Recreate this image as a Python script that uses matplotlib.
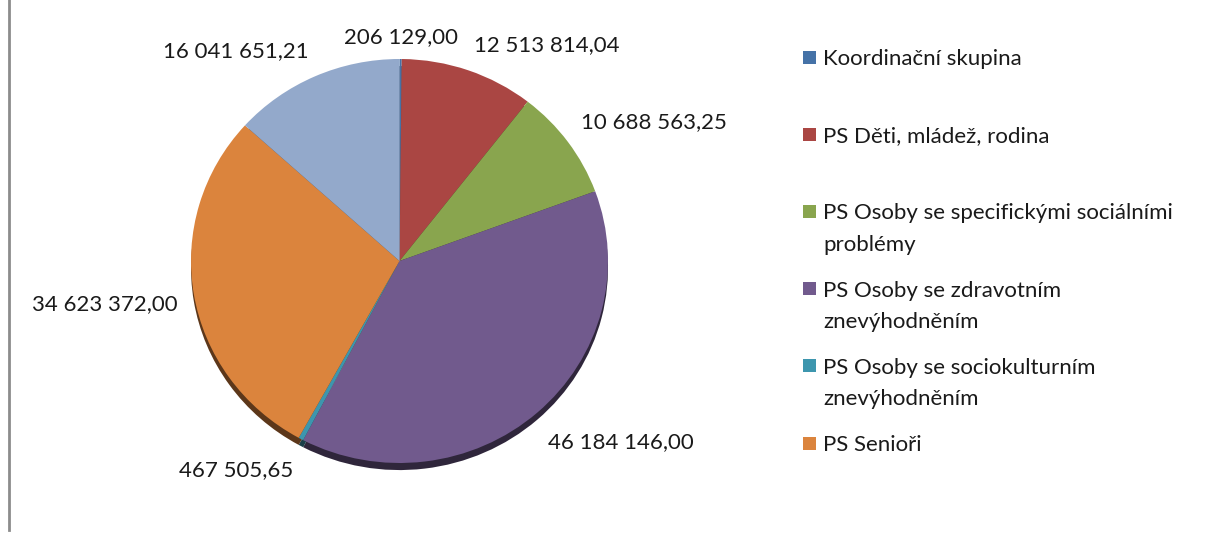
import numpy as np
import matplotlib
matplotlib.use('Agg')
import matplotlib.pyplot as plt
from matplotlib.colors import to_rgb
from matplotlib.lines import Line2D
from matplotlib.patches import Rectangle

# Slice data (clockwise from 12 o'clock)
categories = [
    'Koordinační skupina',
    'PS Děti, mládež, rodina',
    'PS Osoby se specifickými sociálními\nproblémy',
    'PS Osoby se zdravotním\nznevýhodněním',
    'PS Osoby se sociokulturním\nznevýhodněním',
    'PS Senioři',
    'Ostatní',
]
values = [206129.00, 12513814.04, 10688563.25, 46184146.00, 467505.65, 34623372.00, 16041651.21]
value_labels = ['206 129,00', '12 513 814,04', '10 688 563,25', '46 184 146,00',
                '467 505,65', '34 623 372,00', '16 041 651,21']
colors = ['#4572A7', '#AA4643', '#89A54E', '#715A8D', '#3D96AE', '#DB843D', '#93A9CB']
n_legend = 6  # last entry is cut off in the original legend

plt.rcParams['font.family'] = ['Lato', 'DejaVu Sans']
FS = 16
W, H = 1212, 534

fig = plt.figure(figsize=(W / 100, H / 100), dpi=100)

# pie axes: slightly squashed ellipse like the Excel 3D pie
ax = fig.add_axes([191 / W, (H - 463) / H, 417 / W, 404 / H])

# dark side / shadow of the 3D pie
depth = 0.035
side_colors = [tuple(0.42 * v for v in to_rgb(c)) for c in colors]
ax.pie(values, startangle=90, counterclock=False, center=(0, -depth),
       colors=side_colors, wedgeprops=dict(linewidth=0))

wedges, texts = ax.pie(values, startangle=90, counterclock=False, colors=colors,
                       labels=value_labels, labeldistance=1.08,
                       wedgeprops=dict(linewidth=0),
                       textprops=dict(fontsize=FS, color='#1a1a1a'))

# Excel-like label placement around the ellipse
for w, t in zip(wedges, texts):
    ang = np.deg2rad((w.theta1 + w.theta2) / 2)
    c, s = np.cos(ang), np.sin(ang)
    y = 1.08 * s - (depth if s < 0 else 0)
    if s > 0.99:
        y -= 0.02
    t.set_position((1.08 * c, y))
    t.set_va('bottom' if s > 0.3 else ('top' if s < -0.3 else 'center'))
    if abs(c) < 0.05:
        t.set_ha('center')

ax.set_xlim(-1, 1)
ax.set_ylim(-1, 1)
ax.set_aspect('auto')
ax.axis('off')

# legend, Excel-style fixed slots
for i in range(n_legend):
    y = 57 + 77.2 * i
    fig.add_artist(Rectangle((803 / W, 1 - (y + 6.5) / H), 13 / W, 13 / H,
                             transform=fig.transFigure, facecolor=colors[i],
                             edgecolor='none'))
    fig.text(823 / W, 1 - (y - 8) / H, categories[i], fontsize=FS, color='#1a1a1a',
             ha='left', va='top', linespacing=1.72)

# left frame line
fig.add_artist(Line2D([8.5 / W, 8.5 / W], [4 / H, 1.0], transform=fig.transFigure,
                      color='#8c8c8c', lw=2))

fig.savefig('out.png', dpi=100)
